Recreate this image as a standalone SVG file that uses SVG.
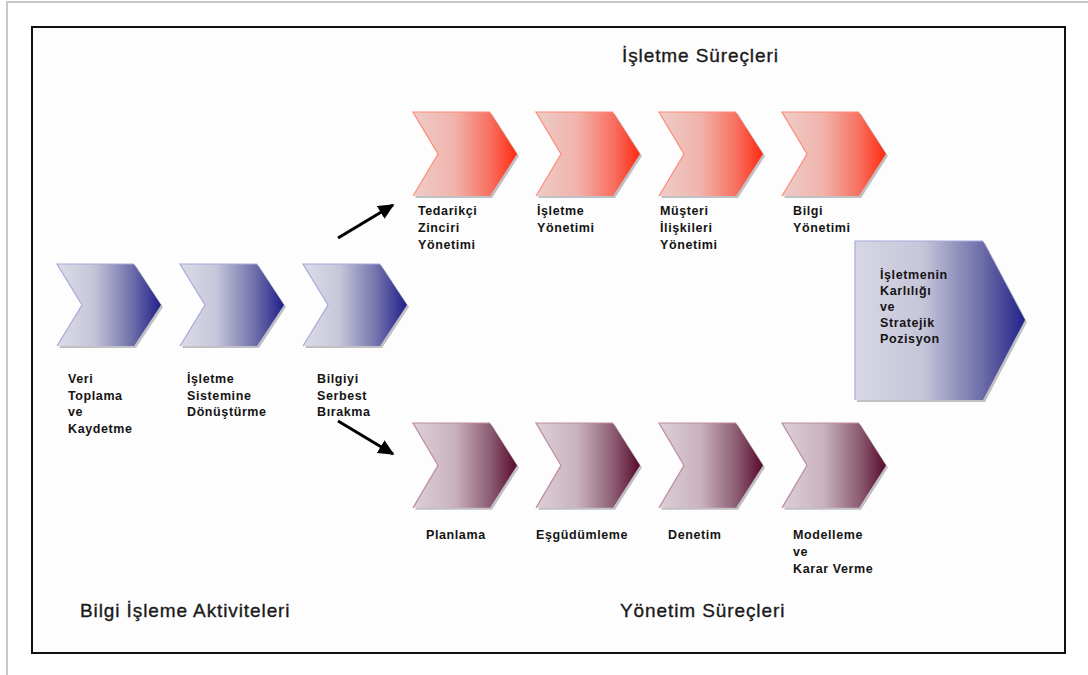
<svg xmlns="http://www.w3.org/2000/svg" width="1088" height="675" viewBox="0 0 1088 675">
  <defs>
    <linearGradient id="gBlue" x1="0" y1="0" x2="1" y2="0">
      <stop offset="0" stop-color="#dcdce7"/>
      <stop offset="0.35" stop-color="#c6c6da"/>
      <stop offset="0.7" stop-color="#7474ad"/>
      <stop offset="1" stop-color="#20208a"/>
    </linearGradient>
    <linearGradient id="gRed" x1="0" y1="0" x2="1" y2="0">
      <stop offset="0" stop-color="#edcdc8"/>
      <stop offset="0.4" stop-color="#f1b3ab"/>
      <stop offset="0.75" stop-color="#f86e5e"/>
      <stop offset="1" stop-color="#ff2a10"/>
    </linearGradient>
    <linearGradient id="gWine" x1="0" y1="0" x2="1" y2="0">
      <stop offset="0" stop-color="#ddd0d7"/>
      <stop offset="0.4" stop-color="#c9b2bd"/>
      <stop offset="0.75" stop-color="#8b5b71"/>
      <stop offset="1" stop-color="#580a2a"/>
    </linearGradient>
    <linearGradient id="gBig" x1="0" y1="0" x2="1" y2="0">
      <stop offset="0" stop-color="#d6d6e4"/>
      <stop offset="0.4" stop-color="#c6c6da"/>
      <stop offset="0.75" stop-color="#6c6ca8"/>
      <stop offset="1" stop-color="#22228a"/>
    </linearGradient>
    <!-- chevron outline, 104 wide, 84 tall -->
    <polygon id="chev" points="0,0 77,0 104,42 77,84 0,84 25,42"/>
    <polyline id="chevEdge" points="77,0 0,0 25,42 0,84" fill="none"/>
    <marker id="head" viewBox="0 0 10 10" refX="9" refY="5" markerWidth="16" markerHeight="15" markerUnits="userSpaceOnUse" orient="auto" preserveAspectRatio="none">
      <path d="M0,0 L10,5 L0,10 Z" fill="#000"/>
    </marker>
  </defs>
  <style>
    .shadow { fill: #8c8c96; opacity: 0.55; }
    .blue { fill: url(#gBlue); }
    .red { fill: url(#gRed); }
    .wine { fill: url(#gWine); }
    .edgeBlue { stroke: #a8a8dc; stroke-width: 1.2; }
    .edgeRed { stroke: #ff8a78; stroke-width: 1.2; }
    .edgeWine { stroke: #c08aa4; stroke-width: 1.2; }
    .lbl { font-family: "Liberation Sans", Arial, sans-serif; font-weight: bold; font-size: 12.5px; letter-spacing: 0.6px; fill: #141414; }
    .ttl { font-family: "Liberation Sans", Arial, sans-serif; font-size: 19px; letter-spacing: 0.9px; fill: #1a1a1a; stroke: #1a1a1a; stroke-width: 0.35px; }
    .arrow { stroke: #000; stroke-width: 3; fill: none; }
  </style>

  <rect width="1088" height="675" fill="#ffffff"/>
  <!-- page frame -->
  <line x1="6" y1="2" x2="1088" y2="2" stroke="#c8c8c8" stroke-width="2"/>
  <line x1="7" y1="2" x2="7" y2="675" stroke="#c8c8c8" stroke-width="2"/>
  <rect x="32" y="27" width="1033" height="626" fill="#fdfdfd" stroke="#111" stroke-width="2"/>

  <!-- section titles -->
  <text class="ttl" x="622" y="62">İşletme Süreçleri</text>
  <text class="ttl" x="80" y="617">Bilgi İşleme Aktiviteleri</text>
  <text class="ttl" x="620" y="617">Yönetim Süreçleri</text>

  <!-- information processing activities -->
  <g id="veri-toplama">
    <use href="#chev" class="shadow" transform="translate(59,266) scale(1,0.976)"/>
    <use href="#chev" class="blue" transform="translate(57,264) scale(1,0.976)"/>
    <use href="#chevEdge" class="edgeBlue" transform="translate(57,264) scale(1,0.976)"/>
    <text class="lbl" x="68" y="383">Veri</text>
    <text class="lbl" x="68" y="399.5">Toplama</text>
    <text class="lbl" x="68" y="416">ve</text>
    <text class="lbl" x="68" y="432.5">Kaydetme</text>
  </g>
  <g id="sisteme-donusturme">
    <use href="#chev" class="shadow" transform="translate(182,266) scale(1,0.976)"/>
    <use href="#chev" class="blue" transform="translate(180,264) scale(1,0.976)"/>
    <use href="#chevEdge" class="edgeBlue" transform="translate(180,264) scale(1,0.976)"/>
    <text class="lbl" x="187" y="383">İşletme</text>
    <text class="lbl" x="187" y="399.5">Sistemine</text>
    <text class="lbl" x="187" y="416">Dönüştürme</text>
  </g>
  <g id="bilgiyi-serbest-birakma">
    <use href="#chev" class="shadow" transform="translate(305,266) scale(1,0.976)"/>
    <use href="#chev" class="blue" transform="translate(303,264) scale(1,0.976)"/>
    <use href="#chevEdge" class="edgeBlue" transform="translate(303,264) scale(1,0.976)"/>
    <text class="lbl" x="317" y="383">Bilgiyi</text>
    <text class="lbl" x="317" y="399.5">Serbest</text>
    <text class="lbl" x="317" y="416">Bırakma</text>
  </g>

  <!-- business processes -->
  <g id="tedarik-zinciri">
    <use href="#chev" class="shadow" transform="translate(415,114)"/>
    <use href="#chev" class="red" transform="translate(413,112)"/>
    <use href="#chevEdge" class="edgeRed" transform="translate(413,112)"/>
    <text class="lbl" x="418" y="215">Tedarikçi</text>
    <text class="lbl" x="418" y="232">Zinciri</text>
    <text class="lbl" x="418" y="249">Yönetimi</text>
  </g>
  <g id="isletme-yonetimi">
    <use href="#chev" class="shadow" transform="translate(538,114)"/>
    <use href="#chev" class="red" transform="translate(536,112)"/>
    <use href="#chevEdge" class="edgeRed" transform="translate(536,112)"/>
    <text class="lbl" x="537" y="215">İşletme</text>
    <text class="lbl" x="537" y="232">Yönetimi</text>
  </g>
  <g id="musteri-iliskileri">
    <use href="#chev" class="shadow" transform="translate(661,114)"/>
    <use href="#chev" class="red" transform="translate(659,112)"/>
    <use href="#chevEdge" class="edgeRed" transform="translate(659,112)"/>
    <text class="lbl" x="660" y="215">Müşteri</text>
    <text class="lbl" x="660" y="232">İlişkileri</text>
    <text class="lbl" x="660" y="249">Yönetimi</text>
  </g>
  <g id="bilgi-yonetimi">
    <use href="#chev" class="shadow" transform="translate(784,114)"/>
    <use href="#chev" class="red" transform="translate(782,112)"/>
    <use href="#chevEdge" class="edgeRed" transform="translate(782,112)"/>
    <text class="lbl" x="793" y="215">Bilgi</text>
    <text class="lbl" x="793" y="232">Yönetimi</text>
  </g>

  <!-- management processes -->
  <g id="planlama">
    <use href="#chev" class="shadow" transform="translate(415,425) scale(1,1.01)"/>
    <use href="#chev" class="wine" transform="translate(413,423) scale(1,1.01)"/>
    <use href="#chevEdge" class="edgeWine" transform="translate(413,423) scale(1,1.01)"/>
    <text class="lbl" x="426" y="539">Planlama</text>
  </g>
  <g id="esgudumleme">
    <use href="#chev" class="shadow" transform="translate(538,425) scale(1,1.01)"/>
    <use href="#chev" class="wine" transform="translate(536,423) scale(1,1.01)"/>
    <use href="#chevEdge" class="edgeWine" transform="translate(536,423) scale(1,1.01)"/>
    <text class="lbl" x="536" y="539">Eşgüdümleme</text>
  </g>
  <g id="denetim">
    <use href="#chev" class="shadow" transform="translate(661,425) scale(1,1.01)"/>
    <use href="#chev" class="wine" transform="translate(659,423) scale(1,1.01)"/>
    <use href="#chevEdge" class="edgeWine" transform="translate(659,423) scale(1,1.01)"/>
    <text class="lbl" x="668" y="539">Denetim</text>
  </g>
  <g id="modelleme">
    <use href="#chev" class="shadow" transform="translate(784,425) scale(1,1.01)"/>
    <use href="#chev" class="wine" transform="translate(782,423) scale(1,1.01)"/>
    <use href="#chevEdge" class="edgeWine" transform="translate(782,423) scale(1,1.01)"/>
    <text class="lbl" x="793" y="539">Modelleme</text>
    <text class="lbl" x="793" y="556">ve</text>
    <text class="lbl" x="793" y="573">Karar Verme</text>
  </g>

  <!-- outcome -->
  <g id="karlilik">
    <polygon points="857,243 985,243 1027,322 985,402 857,402" class="shadow"/>
    <polygon points="855,241 983,241 1025,320 983,400 855,400" fill="url(#gBig)"/>
    <polyline points="983,241 855,241 855,400" fill="none" stroke="#a8a8dc" stroke-width="1.2"/>
    <text class="lbl" x="880" y="279">İşletmenin</text>
    <text class="lbl" x="880" y="295">Karlılığı</text>
    <text class="lbl" x="880" y="311">ve</text>
    <text class="lbl" x="880" y="327">Stratejik</text>
    <text class="lbl" x="880" y="343">Pozisyon</text>
  </g>

  <!-- connectors -->
  <g id="connectors">
    <line class="arrow" x1="338" y1="238" x2="393" y2="205" marker-end="url(#head)"/>
    <line class="arrow" x1="338" y1="421" x2="393" y2="454" marker-end="url(#head)"/>
  </g>
</svg>
